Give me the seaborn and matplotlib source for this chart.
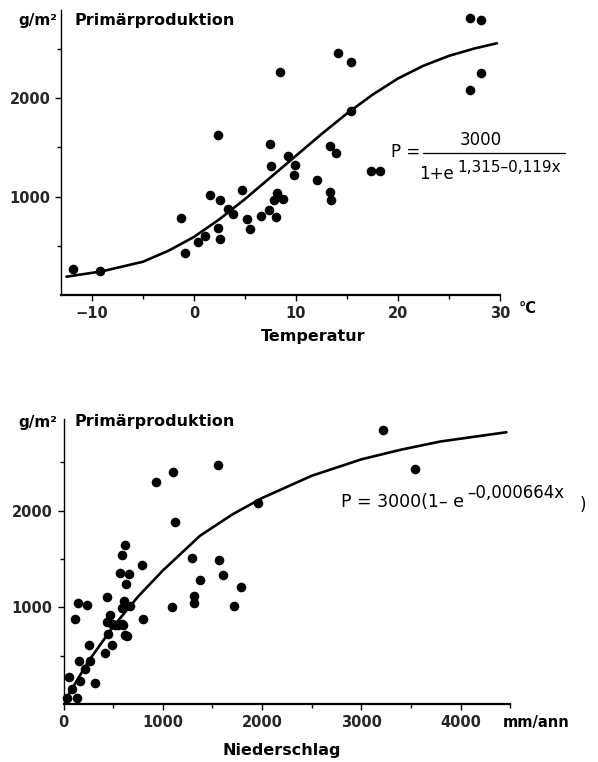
import matplotlib
matplotlib.use("Agg")
import matplotlib.pyplot as plt
from matplotlib.lines import Line2D
import seaborn as sns

# --- Primärproduktion vs. Temperatur ---
temp_x = [-11.9, -9.2, -1.3, -0.9, 0.4, 1.1, 1.6, 2.4, 2.5, 2.4, 2.5, 3.3, 3.8, 4.7,
          5.2, 5.5, 6.6, 7.4, 8.0, 7.8, 8.1, 8.7, 7.45, 7.55, 8.4, 9.2, 9.9, 9.8,
          12.1, 13.3, 13.9, 13.3, 13.4, 14.1, 15.4, 15.4, 17.4, 18.2, 27.1, 28.1,
          28.1, 27.1]
temp_y = [267, 247, 778, 426, 538, 603, 1016, 1626, 969, 677, 572, 871, 820, 1067,
          772, 667, 806, 863, 796, 962, 1033, 972, 1538, 1311, 2266, 1409, 1318, 1223,
          1166, 1514, 1446, 1047, 969, 2459, 2368, 1870, 1263, 1263, 2812, 2792,
          2259, 2080]
temp_curve_x = [-12.5, -9, -5, -2.5, 0, 2.5, 5, 7.5, 10, 12.5, 15, 17.5, 20, 22.5, 25, 27.5, 29.7]
temp_curve_y = [186, 241, 338, 450, 590, 770, 975, 1195, 1415, 1635, 1845, 2035, 2200,
                2330, 2430, 2505, 2558]
temp_ticks = [-10, 0, 10, 20, 30]
temp_tick_labels = ["\u221210", "0", "10", "20", "30"]

# --- Primärproduktion vs. Niederschlag ---
rain_x = [1106, 928, 1120, 1559, 1962, 3221, 3540, 616, 592, 787, 572, 663, 632, 441,
          1294, 1566, 1609, 1372, 1784, 1317, 1317, 1718, 1096, 143, 240, 116, 609, 673,
          589, 797, 465, 435, 485, 519, 552, 586, 602, 639, 451, 622, 485, 418, 260,
          156, 264, 220, 55, 163, 317, 89, 32, 136]
rain_y = [2399, 2296, 1882, 2472, 2075, 2833, 2430, 1641, 1541, 1434, 1352, 1341, 1238,
          1110, 1513, 1489, 1334, 1282, 1213, 1120, 1044, 1013, 1006, 1048, 1027, 879,
          1062, 1017, 993, 876, 923, 848, 827, 814, 814, 827, 814, 698, 721, 714, 607,
          531, 613, 441, 441, 359, 276, 241, 220, 152, 59, 59]
rain_curve_x = [0, 250, 500, 750, 1000, 1375, 1700, 2000, 2500, 3000, 3400, 3800, 4460]
rain_curve_y = [10, 440, 800, 1110, 1380, 1740, 1960, 2130, 2360, 2530, 2630, 2715, 2810]
rain_ticks = [0, 1000, 2000, 3000, 4000]

sns.set_theme(style="ticks")
plt.rcParams["font.family"] = ["DejaVu Sans"]

W, H = 598, 762


def fx(x):
    return x / W


def fy(y):
    return 1 - y / H


fig = plt.figure(figsize=(W / 100, H / 100), dpi=100)
fig.patch.set_facecolor("white")

ax1 = fig.add_axes([fx(61.4), fy(295), 438.6 / W, 285.4 / H])
ax2 = fig.add_axes([fx(63.5), fy(704), 446.9 / W, 285.3 / H])

sns.scatterplot(x=temp_x, y=temp_y, ax=ax1, color="black", s=48, linewidth=0, clip_on=False)
sns.lineplot(x=temp_curve_x, y=temp_curve_y, ax=ax1, color="black", lw=1.9,
             sort=False, estimator=None)
sns.scatterplot(x=rain_x, y=rain_y, ax=ax2, color="black", s=48, linewidth=0, clip_on=False)
sns.lineplot(x=rain_curve_x, y=rain_curve_y, ax=ax2, color="black", lw=1.9,
             sort=False, estimator=None)

ax1.set_xlim(-13, 30)
ax1.set_ylim(0, 2900)
ax1.set_xticks(temp_ticks)
ax1.set_xticklabels(temp_tick_labels)
ax1.set_xticks([-5, 5, 15, 25], minor=True)

ax2.set_xlim(0, 4500)
ax2.set_ylim(0, 2950)
ax2.set_xticks(rain_ticks)
ax2.set_xticks([500, 1500, 2500, 3500, 4500], minor=True)

for ax in (ax1, ax2):
    sns.despine(ax=ax)
    ax.set_facecolor("white")
    ax.set_yticks([1000, 2000])
    ax.set_yticks([500, 1500, 2500], minor=True)
    ax.spines["left"].set_linewidth(1.0)
    ax.spines["bottom"].set_linewidth(1.6)
    ax.spines["left"].set_color("black")
    ax.spines["bottom"].set_color("black")
    ax.tick_params(which="both", direction="out", color="black", width=1.0)
    ax.tick_params(which="major", length=4, pad=4, labelsize=10.5)
    ax.tick_params(which="minor", length=3)
    for lab in ax.get_xticklabels() + ax.get_yticklabels():
        lab.set_fontweight("bold")
    ax.set_xlabel("")
    ax.set_ylabel("")

bold = dict(fontweight="bold", color="black")

# header texts
fig.text(fx(57), fy(20), "g/m\u00b2", ha="right", va="center", fontsize=11, **bold)
fig.text(fx(75), fy(20), "Primärproduktion", ha="left", va="center", fontsize=11.5, **bold)
fig.text(fx(57), fy(423), "g/m\u00b2", ha="right", va="center", fontsize=11, **bold)
fig.text(fx(75), fy(421), "Primärproduktion", ha="left", va="center", fontsize=11.5, **bold)

# axis labels / units
fig.text(fx(313), fy(336), "Temperatur", ha="center", va="center", fontsize=11.5, **bold)
fig.text(fx(519), fy(309), "°C", ha="left", va="center", fontsize=10.5, **bold)
fig.text(fx(282), fy(750), "Niederschlag", ha="center", va="center", fontsize=11.5, **bold)
fig.text(fx(503), fy(722), "mm/ann", ha="left", va="center", fontsize=10.5, **bold)

# equation, top panel
eq = dict(color="black", fontsize=12)
fig.text(fx(391), fy(152), "P =", ha="left", va="center", **eq)
fig.add_artist(Line2D([fx(423), fx(565)], [fy(152.5), fy(152.5)], color="black", lw=0.9))
fig.text(fx(481), fy(140), "3000", ha="center", va="center", **eq)
fig.text(fx(419), fy(174), "1+e", ha="left", va="center", **eq)
fig.text(fx(457), fy(167), "1,315\u20130,119x", ha="left", va="center",
         color="black", fontsize=11)

# equation, bottom panel
fig.text(fx(341), fy(502), "P = 3000(1\u2013 e", ha="left", va="center",
         color="black", fontsize=12.5)
fig.text(fx(467), fy(493), "\u20130,000664x", ha="left", va="center",
         color="black", fontsize=12)
fig.text(fx(580), fy(505), ")", ha="left", va="center", **eq)

fig.savefig("out.png", dpi=100)
